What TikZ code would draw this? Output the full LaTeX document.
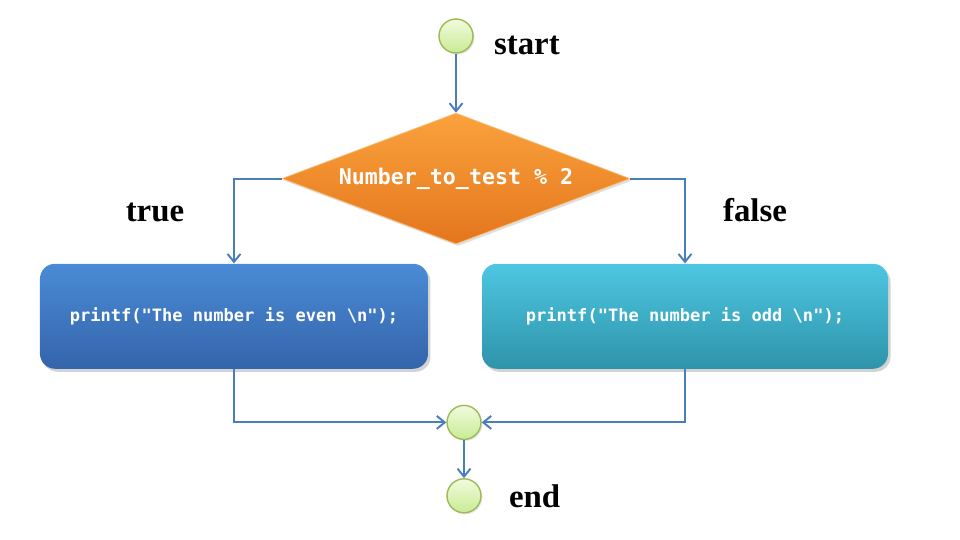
\documentclass[tikz,border=0pt]{standalone}
\usepackage{fontspec}
\setmainfont{Liberation Serif}
\setmonofont{DejaVu Sans Mono}
\usetikzlibrary{shapes.geometric, calc, arrows.meta, positioning, shadows}
\definecolor{flowline}{RGB}{74,126,187}
\definecolor{circtop}{RGB}{242,251,222}
\definecolor{circbot}{RGB}{200,235,148}
\definecolor{circline}{RGB}{155,187,89}
\definecolor{orangetop}{RGB}{250,162,60}
\definecolor{orangebot}{RGB}{228,118,30}
\definecolor{bluetop}{RGB}{74,139,214}
\definecolor{bluebot}{RGB}{52,100,170}
\definecolor{cyantop}{RGB}{78,198,226}
\definecolor{cyanbot}{RGB}{46,148,170}

\begin{document}
\begin{tikzpicture}[>={Straight Barb[length=1.6mm, width=2.6mm]},
  circ/.style={circle, draw=circline, thick, top color=circtop, bottom color=circbot, minimum size=0.68cm, inner sep=0pt, drop shadow={opacity=0.2, shadow xshift=0.03cm, shadow yshift=-0.03cm}},
  lbl/.style={font=\fontsize{18.7}{22}\selectfont\bfseries, inner sep=0pt},
  decision/.style={diamond, shape aspect=2.66, draw=orangetop!70!white, top color=orangetop, bottom color=orangebot, minimum width=6.96cm, minimum height=2.62cm, inner sep=0pt, text=white, font=\fontsize{12.3}{14}\selectfont\ttfamily\bfseries, drop shadow={opacity=0.25, shadow xshift=0.04cm, shadow yshift=-0.04cm}},
  box/.style={draw=none, rounded corners=0.3cm, minimum height=2.1cm, text=white, font=\fontsize{9.7}{12}\selectfont\ttfamily\bfseries, drop shadow={opacity=0.35, shadow xshift=0.05cm, shadow yshift=-0.06cm}},
  flow/.style={->, draw=flowline, line width=1.1pt}]
\useasboundingbox (-9.12,0.72) rectangle (10.08,-10.08);
\node[circ] (start) {};
\node[lbl, right=0.4cm of start, yshift=-0.18cm] (startlbl) {start};
\node[decision, below=1.18cm of start] (test) {Number\_to\_test \% 2};
\node[box, top color=bluetop, bottom color=bluebot, minimum width=7.76cm, below=0.38cm of test.south, xshift=-4.44cm] (even) {printf("The number is even \textbackslash n");};
\node[box, top color=cyantop, bottom color=cyanbot, minimum width=8.12cm, below=0.38cm of test.south, xshift=4.58cm] (odd) {printf("The number is odd \textbackslash n");};
\node[lbl, above=0.82cm of even.north, xshift=-1.58cm] (truelbl) {true};
\node[lbl, above=0.82cm of odd.north, xshift=1.4cm] (falselbl) {false};
\node[circ, below=7.02cm of start, xshift=0.16cm] (merge) {};
\node[circ, below=0.76cm of merge] (end) {};
\node[lbl, right=0.54cm of end] (endlbl) {end};
\draw[flow] (start) -- (test);
\draw[flow] (test.west) -| (even.north);
\draw[flow] (test.east) -| (odd.north);
\draw[flow] (even.south) |- (merge.west);
\draw[flow] (odd.south) |- (merge.east);
\draw[flow] (merge) -- (end);
\end{tikzpicture}
\end{document}
